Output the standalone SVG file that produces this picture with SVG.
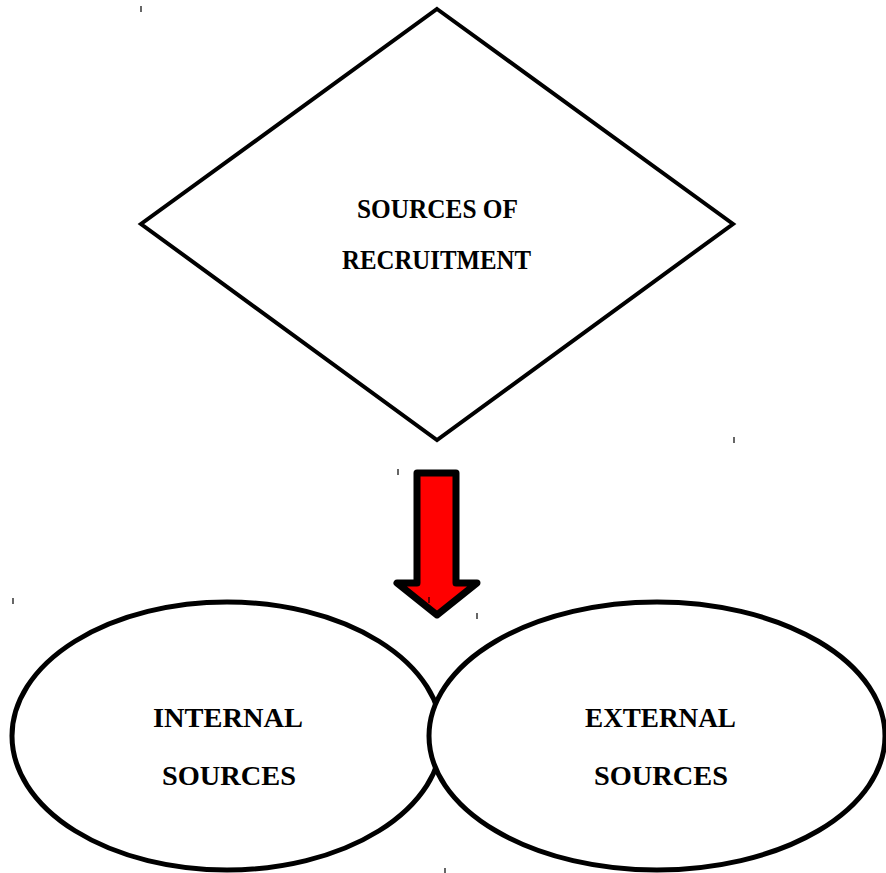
<svg xmlns="http://www.w3.org/2000/svg" width="886" height="873" viewBox="0 0 886 873">
  <style>
    .shape { fill: #ffffff; stroke: #000000; stroke-width: 4; stroke-linejoin: miter; }
    .oval { fill: #ffffff; stroke: #000000; stroke-width: 5; }
    .label { font-family: "Liberation Serif", "DejaVu Serif", serif; font-weight: bold; font-size: 27px; fill: #000000; }
    .tick { stroke: #000000; stroke-width: 1.2; }
  </style>
  <rect width="886" height="873" fill="#ffffff"/>

  <g id="sources-of-recruitment">
    <polygon class="shape" points="437,9 733,224 437,440 141,224"/>
    <text class="label" x="357" y="218" textLength="161" lengthAdjust="spacingAndGlyphs">SOURCES OF</text>
    <text class="label" x="342" y="269" textLength="189" lengthAdjust="spacingAndGlyphs">RECRUITMENT</text>
  </g>

  <g id="connectors">
    <path d="M417,473 L456,473 L456,583 L477,583 L437,615 L397,583 L417,583 Z" fill="#ff0000" stroke="#000000" stroke-width="7" stroke-linejoin="round"/>
  </g>

  <g id="internal-sources">
    <ellipse class="oval" cx="227" cy="736" rx="215" ry="134"/>
    <text class="label" x="153" y="727" textLength="150" lengthAdjust="spacingAndGlyphs">INTERNAL</text>
    <text class="label" x="162" y="785" textLength="134" lengthAdjust="spacingAndGlyphs">SOURCES</text>
  </g>

  <g id="external-sources">
    <ellipse class="oval" cx="657" cy="736" rx="228" ry="134"/>
    <text class="label" x="585" y="727" textLength="151" lengthAdjust="spacingAndGlyphs">EXTERNAL</text>
    <text class="label" x="594" y="785" textLength="134" lengthAdjust="spacingAndGlyphs">SOURCES</text>
  </g>

  <g id="marks">
    <line class="tick" x1="141" y1="6" x2="141" y2="12"/>
    <line class="tick" x1="734" y1="437" x2="734" y2="443"/>
    <line class="tick" x1="398" y1="469" x2="398" y2="475"/>
    <line class="tick" x1="13" y1="598" x2="13" y2="604"/>
    <line class="tick" x1="477" y1="613" x2="477" y2="619"/>
    <line class="tick" x1="429" y1="597" x2="429" y2="603"/>
    <line class="tick" x1="445" y1="868" x2="445" y2="873"/>
  </g>
</svg>
